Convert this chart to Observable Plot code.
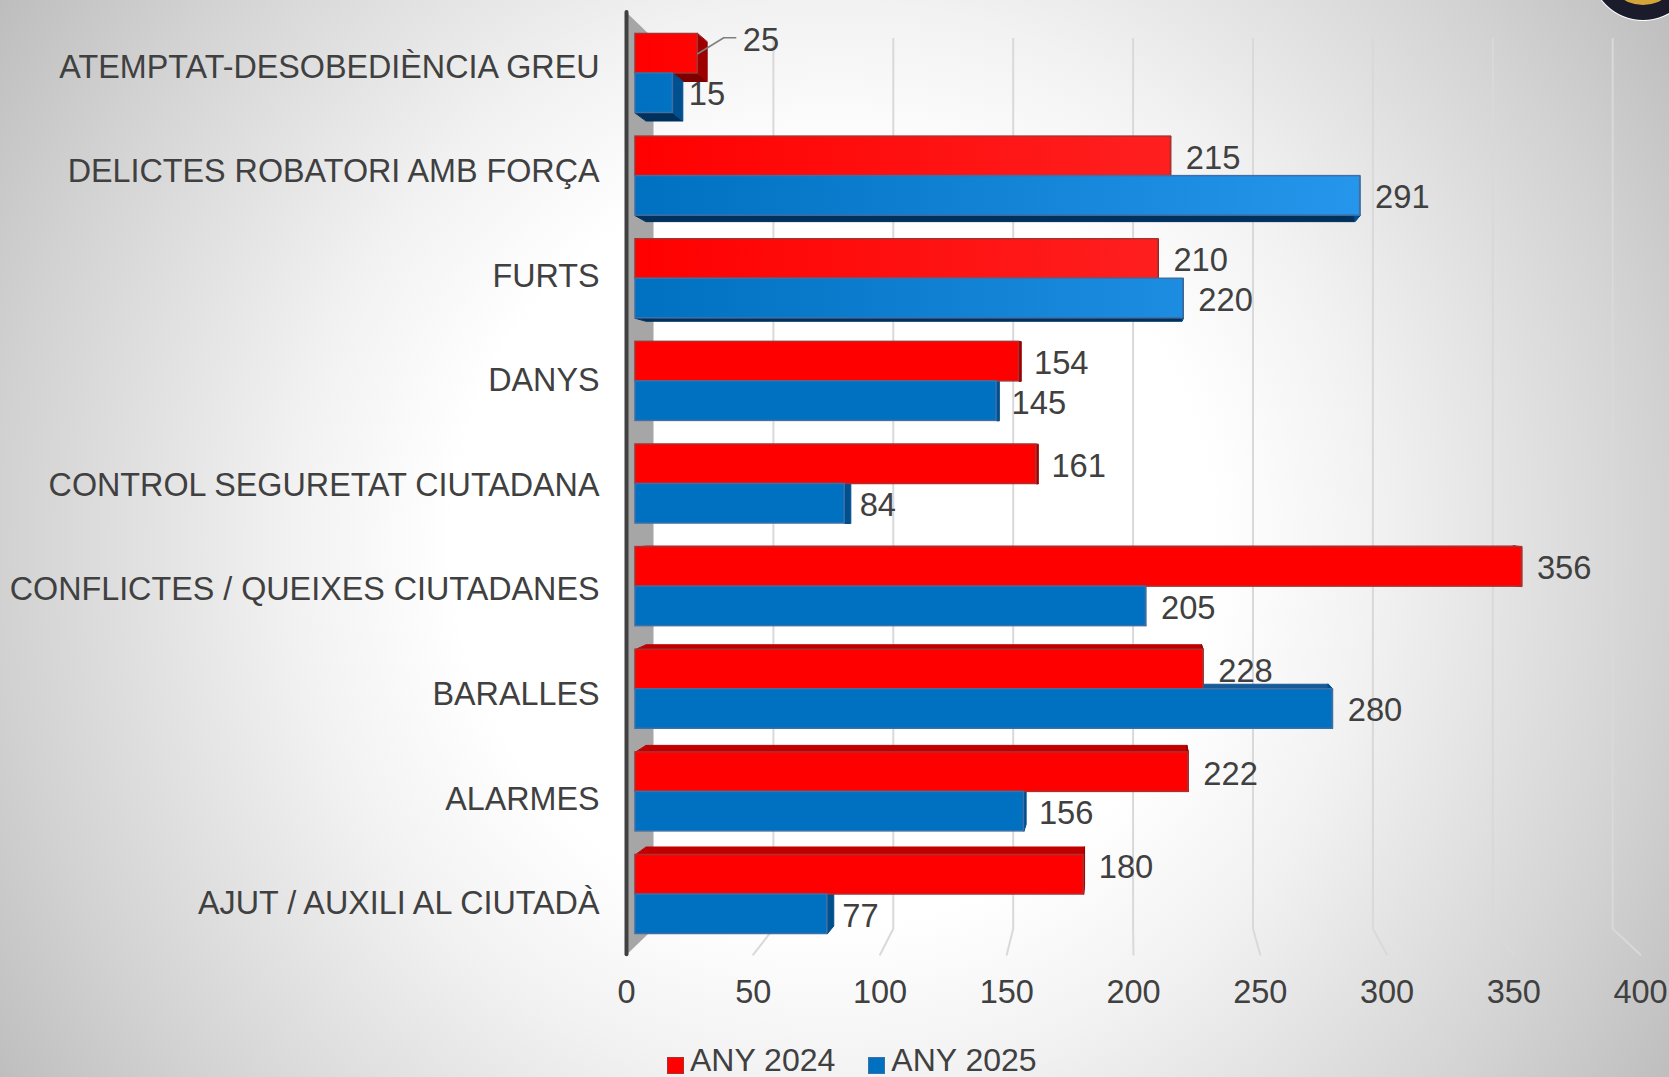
<!DOCTYPE html>
<html>
<head>
<meta charset="utf-8">
<script src="https://cdn.jsdelivr.net/npm/d3@7"></script>
<script src="https://cdn.jsdelivr.net/npm/@observablehq/plot@0.6"></script>
<style>
html,body{margin:0;padding:0;width:1669px;height:1077px;overflow:hidden;}
body{position:relative;font-family:"Liberation Sans",Arial,sans-serif;color:#404040;
background:radial-gradient(circle 1000px at 834px 545px,#ffffff 0,#ffffff 38%,#f2f2f2 54%,#d2d2d2 83%,#bdbdbd 100%);}
#logo{position:absolute;left:1591px;top:-84px;width:104px;height:104px;border-radius:50%;background:#1a1c2c;box-shadow:0 0 0 1px #fff;}
#logo i{position:absolute;left:15px;top:15px;width:74px;height:74px;border-radius:50%;background:#d4a63a;display:block;}
#legend{display:flex;align-items:center;margin-left:667px;margin-top:2px;height:37px;font-size:32px;line-height:37px;}
#legend span{display:inline-block;width:17px;height:17px;margin-right:6px;box-sizing:border-box;border:1px solid #8a3a3a;position:relative;top:5px;}
#legend b{font-weight:normal;margin-right:33px;}
svg{display:block;}
</style>
</head>
<body>
<div id="logo"><i></i></div>
<div id="chart"></div>
<div id="legend"></div>
<script>
const categories = ["ATEMPTAT-DESOBEDIÈNCIA GREU","DELICTES ROBATORI AMB FORÇA","FURTS","DANYS","CONTROL SEGURETAT CIUTADANA","CONFLICTES / QUEIXES CIUTADANES","BARALLES","ALARMES","AJUT / AUXILI AL CIUTADÀ"];
const values2024 = [25,215,210,154,161,356,228,222,180];
const values2025 = [15,291,220,145,84,205,280,156,77];
const xTicks = [0,50,100,150,200,250,300,350,400];
const seriesNames = ["ANY 2024","ANY 2025"];

// Projection of the 3D chart box onto the flat x / row scales
const PX = 2.49, ROWPX = 102.6, HALF = 39.5 / ROWPX;
const rowDepth = [8,6,3,0,0,-1,-5,-7,-8];
const back = v => (18 + 2.398 * v) / PX;
const front = v => (-9 + 2.535 * v) / PX;
const depthX = v => (10.8 - 0.0552 * v) / PX;
const depthY = i => rowDepth[i] / ROWPX;
const labelRow = i => (-7 + 1 + 104.5 * i) / ROWPX;

const palette = {
  "ANY 2024": {front:"#ff0000", grad:"url(#gr)", stroke:"#a8322f", top:"#c00000", bottom:"#7c0000", side:"#9c0000"},
  "ANY 2025": {front:"#0070c0", grad:"url(#gb)", stroke:"#3f6fa5", top:"#175a98", bottom:"#00305c", side:"#004f8e"}
};

const bars = [];
categories.forEach((cat,i)=>{
  bars.push({cat,row:i,series:seriesNames[0],value:values2024[i],y1:i-HALF,y2:i});
  bars.push({cat,row:i,series:seriesNames[1],value:values2025[i],y1:i,y2:i+HALF});
});

const faces = [];
bars.forEach((b,k)=>{
  const dy = depthY(b.row), dx = depthX(b.value), d0 = depthX(0), p = palette[b.series];
  const edge = dy >= 0 ? b.y2 : b.y1;
  if (dy !== 0) {
    const fill = dy >= 0 ? p.bottom : p.top;
    [[0,edge],[b.value,edge],[b.value+dx,edge+dy],[d0,edge+dy]].forEach(([x,y])=>faces.push({id:"h"+k,series:b.series,x,y,fill}));
  }
  [[b.value,b.y1],[b.value,b.y2],[b.value+dx,b.y2+dy],[b.value+dx,b.y1+dy]].forEach(([x,y])=>faces.push({id:"s"+k,series:b.series,x,y,fill:p.side}));
});

// rows 0-2 catch the light: a soft gradient along the bar
const barFill = b => b.row < 3 ? palette[b.series].grad : palette[b.series].front;

const labelDx = b => b.value === 25 ? 45 : b.value === 15 ? 16 : 15;
const labelDy = b => b.value === 25 ? -13 : b.value === 15 ? 1 : b.value === 180 ? -7 : 2;

const yWallTop = -61/ROWPX, yTop = -35/ROWPX, yBack = 855/ROWPX, yFront = 881/ROWPX;
const wall = [[front(0),yWallTop],[back(0),yTop],[back(0),yBack],[front(0),yFront]].map(([x,y])=>({x,y}));
const gridLines = xTicks.filter(v=>v>0);
const floor = gridLines.flatMap(v=>[{v,x:back(v),y:yBack},{v,x:front(v),y:yFront}]);
const leader = [{x:25,y:-HALF*0.5},{x:25+26/PX,y:-HALF*0.5-16/ROWPX},{x:25+38/PX,y:-HALF*0.5-16/ROWPX}];

const defs = () => {
  const ns = "http://www.w3.org/2000/svg";
  const d = document.createElementNS(ns,"defs");
  d.innerHTML = `<linearGradient id="gr" gradientUnits="userSpaceOnUse" x1="635" y1="0" x2="1180" y2="0"><stop offset="0" stop-color="#ff0000"/><stop offset="1" stop-color="#ff2020"/></linearGradient>
  <linearGradient id="gb" gradientUnits="userSpaceOnUse" x1="635" y1="0" x2="1360" y2="0"><stop offset="0" stop-color="#0070c0"/><stop offset="1" stop-color="#2596eb"/></linearGradient>`;
  return d;
};

const FONT = "Liberation Sans";
const chart = Plot.plot({
  width:1669, height:1040,
  marginLeft:0, marginRight:0, marginTop:0, marginBottom:0,
  style:{background:"transparent",fontFamily:FONT,overflow:"visible"},
  x:{domain:[0,400],range:[635,1631],axis:null},
  y:{domain:[0,8],range:[73,894],axis:null},
  color:{type:"identity"},
  marks:[
    defs,
    Plot.line(wall,{x:"x",y:"y",fill:"#a6a6a6",stroke:"none",curve:"linear-closed"}),
    Plot.ruleX(gridLines,{x:back,y1:yTop,y2:yBack,stroke:"#d9d9d9",strokeWidth:2}),
    Plot.line(floor,{x:"x",y:"y",z:"v",stroke:"#d9d9d9",strokeWidth:2}),
    Plot.line(faces.filter(f=>f.series===seriesNames[0]),{x:"x",y:"y",z:"id",fill:"fill",stroke:"fill",strokeWidth:1,curve:"linear-closed"}),
    Plot.line(faces.filter(f=>f.series===seriesNames[1]),{x:"x",y:"y",z:"id",fill:"fill",stroke:"fill",strokeWidth:1,curve:"linear-closed"}),
    Plot.rect(bars,{x1:()=>0,x2:"value",y1:"y1",y2:"y2",fill:barFill,stroke:b=>palette[b.series].stroke,strokeWidth:1.5}),
    Plot.ruleX([0],{x:front,y1:yWallTop,y2:yFront,stroke:"#404040",strokeWidth:4,strokeLinecap:"round"}),
    Plot.line(leader,{x:"x",y:"y",stroke:"#7f7f7f",strokeWidth:1.5}),
    Plot.text(bars,{x:b=>b.value+labelDx(b)/PX,y:b=>(b.y1+b.y2)/2+labelDy(b)/ROWPX,text:b=>String(b.value),textAnchor:"start",fontSize:32.7,fill:"#404040"}),
    Plot.text(xTicks,{x:front,y:8,dy:98,text:v=>String(v),textAnchor:"middle",fontSize:32.5,fill:"#404040"}),
    Plot.text(categories,{x:()=>0,y:(d,i)=>labelRow(i),text:d=>d,dx:-36,textAnchor:"end",fontSize:32.3,fill:"#404040"})
  ]
});
document.getElementById("chart").appendChild(chart);
const lg = document.getElementById("legend");
seriesNames.forEach(n=>{
  const s=document.createElement("span");s.style.background=palette[n].front;s.style.borderColor=palette[n].stroke;
  const b=document.createElement("b");b.textContent=n;
  lg.append(s,b);
});
</script>
</body>
</html>
